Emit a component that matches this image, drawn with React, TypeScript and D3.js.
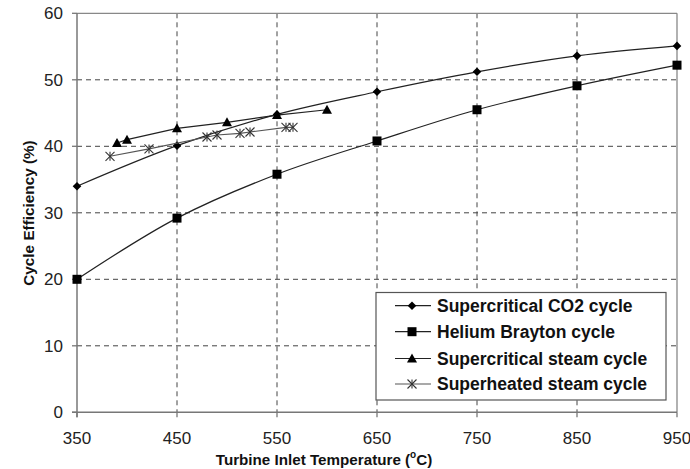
import React from "react";
import * as d3 from "d3";

const temps = [350, 450, 550, 650, 750, 850, 950];
const co2 = [34.0, 40.1, 44.8, 48.2, 51.2, 53.6, 55.1];
const helium = [20.0, 29.2, 35.8, 40.8, 45.5, 49.1, 52.2];
const scSteamT = [390, 400, 450, 500, 550, 600];
const scSteam = [40.5, 41.0, 42.7, 43.6, 44.7, 45.5];
const shSteamT = [383, 422, 480, 490, 513, 523, 559, 566];
const shSteam = [38.5, 39.6, 41.4, 41.7, 41.95, 42.15, 42.85, 42.85];
const xTicks = [350, 450, 550, 650, 750, 850, 950];
const yTicks = [0, 10, 20, 30, 40, 50, 60];
const legendLabels = [
  "Supercritical CO2 cycle",
  "Helium Brayton cycle",
  "Supercritical steam cycle",
  "Superheated steam cycle",
];

const FONT = "'Liberation Sans', Arial, sans-serif";

function Marker({ type, x, y }: { type: string; x: number; y: number }) {
  if (type === "diamond") {
    const s = 4.3;
    return <path d={`M${x},${y - s}L${x + s},${y}L${x},${y + s}L${x - s},${y}Z`} fill="#000" />;
  }
  if (type === "square") {
    const s = 4.5;
    return <rect x={x - s} y={y - s} width={2 * s} height={2 * s} fill="#000" />;
  }
  if (type === "triangle") {
    const s = 5;
    return <path d={`M${x},${y - s}L${x + s},${y + s * 0.8}L${x - s},${y + s * 0.8}Z`} fill="#000" />;
  }
  const s = 4.5;
  return (
    <g stroke="#333" strokeWidth={1.1}>
      <line x1={x - s} y1={y - s} x2={x + s} y2={y + s} />
      <line x1={x - s} y1={y + s} x2={x + s} y2={y - s} />
      <line x1={x} y1={y - s} x2={x} y2={y + s} />
    </g>
  );
}

export default function App() {
  const x = d3.scaleLinear().domain([350, 950]).range([77, 677]);
  const y = d3.scaleLinear().domain([0, 60]).range([412.3, 13.3]);

  const smooth = d3
    .line<[number, number]>()
    .x((d) => x(d[0]))
    .y((d) => y(d[1]))
    .curve(d3.curveCatmullRom.alpha(0.5));
  const straight = d3
    .line<[number, number]>()
    .x((d) => x(d[0]))
    .y((d) => y(d[1]));

  const co2Pts = temps.map((t, i) => [t, co2[i]] as [number, number]);
  const hePts = temps.map((t, i) => [t, helium[i]] as [number, number]);
  const scPts = scSteamT.map((t, i) => [t, scSteam[i]] as [number, number]);
  const shPts = shSteamT.map((t, i) => [t, shSteam[i]] as [number, number]);

  const series = [
    { pts: co2Pts, marker: "diamond", path: smooth(co2Pts), color: "#222" },
    { pts: hePts, marker: "square", path: smooth(hePts), color: "#222" },
    { pts: scPts, marker: "triangle", path: straight(scPts), color: "#222" },
    { pts: shPts, marker: "star", path: straight(shPts), color: "#555" },
  ];

  const legendX = 376;
  const legendY = 292.5;
  const legendW = 290;
  const legendH = 107.5;
  const rowYs = [305.7, 331.7, 358.5, 384];

  return (
    <svg
      width={690}
      height={469}
      style={{ position: "absolute", left: 0, top: 0, background: "#fff" }}
      fontFamily={FONT}
    >
      <rect x={0} y={0} width={690} height={469} fill="#fff" />
      {yTicks.filter((t) => t > 0 && t < 60).map((t) => (
        <line key={"gy" + t} x1={x(350)} x2={x(950)} y1={y(t)} y2={y(t)} stroke="#444" strokeWidth={1} strokeDasharray="5,4" />
      ))}
      {xTicks.filter((t) => t > 350 && t < 950).map((t) => (
        <line key={"gx" + t} x1={x(t)} x2={x(t)} y1={y(60)} y2={y(0)} stroke="#444" strokeWidth={1} strokeDasharray="5,4" />
      ))}
      <line x1={x(350)} x2={x(950)} y1={y(60)} y2={y(60)} stroke="#888" strokeWidth={1.3} />
      <line x1={x(950)} x2={x(950)} y1={y(60)} y2={y(0)} stroke="#888" strokeWidth={1.3} />
      <line x1={x(350)} x2={x(350)} y1={y(60)} y2={y(0) + 5} stroke="#777" strokeWidth={1.5} />
      <line x1={x(350) - 5} x2={x(950)} y1={y(0)} y2={y(0)} stroke="#777" strokeWidth={1.5} />
      {yTicks.map((t) => (
        <g key={"yt" + t}>
          <line x1={x(350) - 5} x2={x(350)} y1={y(t)} y2={y(t)} stroke="#777" strokeWidth={1.3} />
          <text x={63} y={y(t)} dy="0.35em" textAnchor="end" fontSize={17} fill="#222">
            {t}
          </text>
        </g>
      ))}
      {xTicks.map((t) => (
        <g key={"xt" + t}>
          <line x1={x(t)} x2={x(t)} y1={y(0)} y2={y(0) + 5} stroke="#777" strokeWidth={1.3} />
          <text x={x(t)} y={438} dy="0.35em" textAnchor="middle" fontSize={17} fill="#222">
            {t}
          </text>
        </g>
      ))}
      <text x={324} y={460} dy="0.35em" textAnchor="middle" fontSize={15.2} fontWeight="bold" fill="#111">
        Turbine Inlet Temperature (
        <tspan fontSize={10} dy="-0.75em">o</tspan>
        <tspan dy="0.48em">C)</tspan>
      </text>
      <text
        transform={`translate(29,213) rotate(-90)`}
        dy="0.35em"
        textAnchor="middle"
        fontSize={15.3}
        fontWeight="bold"
        fill="#111"
      >
        Cycle Efficiency (%)
      </text>
      {series.map((s, i) => (
        <g key={"s" + i}>
          <path d={s.path || ""} fill="none" stroke={s.color} strokeWidth={1.2} />
          {s.pts.map((p, j) => (
            <Marker key={j} type={s.marker} x={x(p[0])} y={y(p[1])} />
          ))}
        </g>
      ))}
      <rect x={legendX} y={legendY} width={legendW} height={legendH} fill="#fff" stroke="#555" strokeWidth={1.2} />
      {legendLabels.map((lab, i) => (
        <g key={"l" + i}>
          <line x1={395} x2={431} y1={rowYs[i]} y2={rowYs[i]} stroke={series[i].color} strokeWidth={1.2} />
          <Marker type={series[i].marker} x={412} y={rowYs[i]} />
          <text x={437} y={rowYs[i]} dy="0.35em" fontSize={17.5} fontWeight="bold" fill="#111">
            {lab}
          </text>
        </g>
      ))}
    </svg>
  );
}
